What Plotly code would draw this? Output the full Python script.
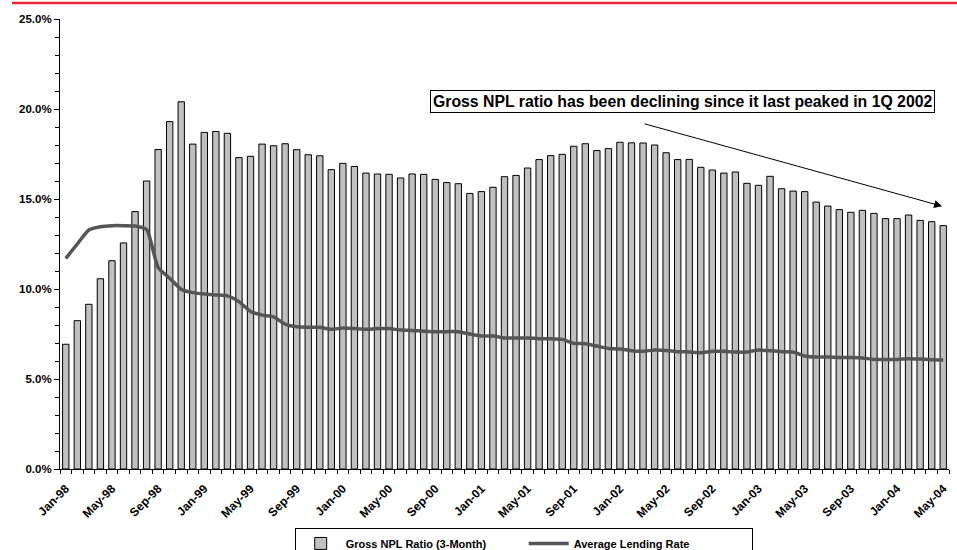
import pandas as pd
import plotly.graph_objects as go

# Monthly categories Jan-98 .. May-04
months = [d.strftime("%b-%y") for d in pd.date_range("1998-01-01", "2004-05-01", freq="MS")]

# Gross NPL ratio (3-month), %
npl_ratio = [
    6.93, 8.24, 9.15, 10.57, 11.57, 12.56, 14.3, 16.0, 17.75, 19.3,
    20.4, 18.05, 18.7, 18.75, 18.65, 17.3, 17.37, 18.05, 17.96, 18.07,
    17.74, 17.46, 17.4, 16.63, 16.98, 16.81, 16.44, 16.39, 16.37, 16.17,
    16.39, 16.37, 16.09, 15.91, 15.85, 15.31, 15.41, 15.65, 16.24, 16.31,
    16.72, 17.19, 17.41, 17.48, 17.93, 18.07, 17.69, 17.8, 18.15, 18.12,
    18.11, 18.0, 17.57, 17.19, 17.2, 16.76, 16.61, 16.44, 16.5, 15.87,
    15.76, 16.26, 15.57, 15.44, 15.41, 14.83, 14.61, 14.41, 14.26, 14.37,
    14.2, 13.91, 13.91, 14.11, 13.81, 13.74, 13.52,
]

# Average lending rate, %
lending_rate = [
    11.7, 12.5, 13.28, 13.46, 13.52, 13.52, 13.5, 13.3, 11.2, 10.6,
    9.98, 9.8, 9.72, 9.67, 9.62, 9.3, 8.75, 8.55, 8.45, 8.05,
    7.9, 7.88, 7.87, 7.76, 7.83, 7.8, 7.76, 7.8, 7.8, 7.72,
    7.7, 7.65, 7.63, 7.63, 7.63, 7.5, 7.39, 7.39, 7.28, 7.28,
    7.28, 7.24, 7.24, 7.2, 6.98, 6.96, 6.83, 6.7, 6.67, 6.57,
    6.54, 6.61, 6.59, 6.52, 6.5, 6.46, 6.54, 6.54, 6.5, 6.5,
    6.61, 6.57, 6.52, 6.5, 6.28, 6.22, 6.22, 6.2, 6.19, 6.17,
    6.09, 6.09, 6.09, 6.13, 6.11, 6.07, 6.06,
]

# Labelled months on the x axis (every fourth month)
tick_labels = months[::4]
y_ticks = [0, 5, 10, 15, 20, 25]

positions = list(range(len(months)))
tick_positions = positions[::4]

FONT = "Arial, Liberation Sans, sans-serif"

fig = go.Figure()
fig.add_trace(go.Bar(
    x=positions, y=npl_ratio, name="Gross NPL Ratio (3-Month)",
    marker=dict(color="#c0c0c0", line=dict(color="#000000", width=1)),
    width=0.55,
))
fig.add_trace(go.Scatter(
    x=positions, y=lending_rate, name="Average Lending Rate",
    mode="lines", line=dict(color="#555555", width=3.5, shape="spline", smoothing=0.6),
))

# Trend arrow: from the 1Q 2002 peak down to the latest month
fig.add_annotation(
    x=len(months) - 1.1, y=14.6, ax=50.0, ay=19.2,
    xref="x", yref="y", axref="x", ayref="y",
    text="", showarrow=True, arrowhead=2, arrowsize=1.6, arrowwidth=1, arrowcolor="#000000",
)
fig.add_annotation(
    x=0.6997, y=0.8156, xref="paper", yref="paper", xanchor="center", yanchor="middle",
    text="<b>Gross NPL ratio has been declining since it last peaked in 1Q 2002</b>",
    showarrow=False, font=dict(family=FONT, size=15.8, color="#000000"),
    bgcolor="#ffffff", bordercolor="#000000", borderwidth=1, borderpad=2,
)

# Red rule across the top of the page
fig.add_shape(
    type="line", xref="paper", yref="paper",
    x0=-0.054, x1=1.01, y0=1.0356, y1=1.0356,
    line=dict(color="#e8283a", width=2.5),
)

fig.update_layout(
    width=957, height=550,
    margin=dict(l=60, r=8, t=19, b=81, autoexpand=False),
    plot_bgcolor="#ffffff", paper_bgcolor="#ffffff",
    font=dict(family=FONT, size=10, color="#000000"),
    bargap=0.45,
    showlegend=True,
    legend=dict(
        orientation="h", x=0.264, xanchor="left", y=-0.131, yanchor="top",
        bordercolor="#000000", borderwidth=1, bgcolor="#ffffff",
        font=dict(family=FONT, size=11, color="#000000", weight="bold"),
        itemwidth=40, tracegroupgap=0, entrywidth=173, entrywidthmode="pixels",
    ),
)

fig.update_xaxes(
    range=[-0.5, len(months) - 0.5], automargin=False,
    tickmode="array", tickvals=tick_positions, ticktext=tick_labels,
    tickangle=-45, ticks="", ticklabelstandoff=7,
    tickfont=dict(family=FONT, size=12, color="#000000", weight="bold"),
    showline=True, linecolor="#000000", linewidth=1,
    showgrid=False, zeroline=False,
    minor=dict(tick0=-0.5, dtick=1, ticks="outside", ticklen=4, tickcolor="#000000", showgrid=False),
)
fig.update_yaxes(
    range=[0, 25], automargin=False,
    tickmode="array", tickvals=y_ticks, ticktext=[f"{v:.1f}%" for v in y_ticks],
    ticks="outside", ticklen=5, tickcolor="#000000",
    tickfont=dict(family=FONT, size=11.5, color="#000000", weight="bold"),
    showline=True, linecolor="#000000", linewidth=1,
    showgrid=False, zeroline=False,
    minor=dict(dtick=1, ticks="outside", ticklen=4, tickcolor="#000000", showgrid=False),
)

fig.write_html("out.html")
